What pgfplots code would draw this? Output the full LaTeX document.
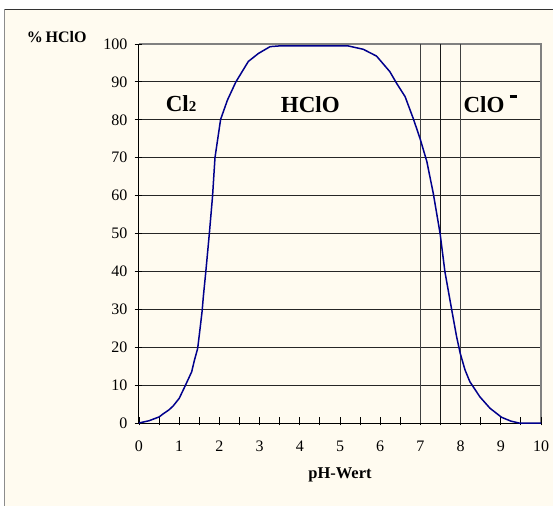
\documentclass[border=0pt]{standalone}
\usepackage{fontspec}
\setmainfont{Liberation Serif}
\usepackage{pgfplots}
\pgfplotsset{compat=1.18}
\definecolor{cream}{RGB}{255,251,240}
\definecolor{curveblue}{RGB}{0,0,140}
\begin{document}
\begin{tikzpicture}
\useasboundingbox (-139bp,-83bp) rectangle (414bp,423bp);
\fill[white] (-139bp,-83bp) rectangle (414bp,423bp);
\fill[cream] (-134bp,-83bp) rectangle (414bp,413.5bp);
\draw[black!45, line width=1bp] (-134bp,-83bp) -- (-134bp,413.5bp);
\draw[black!80, line width=1.2bp] (-134bp,413.5bp) -- (414bp,413.5bp);

\begin{axis}[
  at={(0,0)}, anchor=south west,
  scale only axis, width=402bp, height=379bp,
  xmin=0, xmax=10, ymin=0, ymax=100,
  clip=false,
  axis x line*=bottom, axis y line*=left,
  axis line style={black, line width=1bp, -},
  xtick={0,1,...,10},
  ytick={0,10,...,100},
  ymajorgrids=true,
  major grid style={draw=black!85, line width=0.9bp},
  major tick length=0pt,
  /pgf/number format/assume math mode=true,
  tick label style={font=\fontsize{16bp}{19bp}\selectfont},
  xticklabel style={anchor=base, inner sep=0pt, yshift=-28.7bp},
  yticklabel style={anchor=east, inner sep=0pt, xshift=-11.3bp},
  xlabel={pH-Wert},
  xlabel style={at={(axis description cs:0.5,0)}, anchor=base, inner sep=0pt,
    yshift=-55.3bp, font=\bfseries\fontsize{16.5bp}{19bp}\selectfont},
  ylabel={\%\,HClO},
  ylabel style={rotate=-90, at={(axis description cs:0,1)}, anchor=base west,
    inner sep=0pt, xshift=-112.3bp, yshift=1.3bp,
    font=\bfseries\fontsize{16bp}{19bp}\selectfont},
]
\draw[black!50, line width=1.2bp] (rel axis cs:0,1) -- (rel axis cs:1,1) -- (rel axis cs:1,0);
% tick marks: every 0.5 on the pH axis, every 10 on the % axis
\pgfplotsinvokeforeach{0,0.5,...,10}{
  \draw[black, line width=0.9bp] (axis cs:#1,-0.6) -- (axis cs:#1,1.6);
}
\pgfplotsinvokeforeach{0,10,...,100}{
  \draw[black, line width=0.9bp] (axis cs:-0.11,#1) -- (axis cs:0.075,#1);
}

% pH marks at 7, 7.5 and 8
\addplot[black!75, line width=1bp, mark=none] coordinates {(7,0) (7,100)};
\addplot[black!90, line width=1bp, mark=none] coordinates {(7.5,0) (7.5,100)};
\addplot[black!75, line width=1bp, mark=none] coordinates {(8,0) (8,100)};

\addplot[curveblue, line width=1.5bp, line join=round, mark=none] coordinates {
(0,0) (0.25,0.6) (0.5,1.6) (0.6,2.4) (0.75,3.5) (0.85,4.5) (1.0,6.5)
(1.14,9.6) (1.31,13.5) (1.38,16.6) (1.46,19.7) (1.52,25) (1.57,29.5)
(1.60,33.3) (1.66,39.7) (1.75,50) (1.83,59.9) (1.89,70) (2.03,80.1)
(2.2,85.2) (2.41,90) (2.72,95.4) (2.97,97.5) (3.26,99.3) (3.5,99.5)
(5.2,99.5) (5.58,98.6) (5.91,96.8) (6.24,92.7) (6.41,89.6) (6.62,86.1)
(6.82,80.4) (6.99,75.1) (7.16,69) (7.32,60.6) (7.49,50) (7.61,39.9)
(7.78,29.8) (7.9,22.8) (7.99,18.4) (8.11,14) (8.23,10.9) (8.48,6.9)
(8.73,3.9) (9.02,1.5) (9.25,0.5) (9.45,0) (10,0)
};

\node[anchor=base west, inner sep=0pt, font=\bfseries\fontsize{23bp}{26bp}\selectfont]
  at (axis cs:0.664,82.06) {Cl{\fontsize{15bp}{17bp}\selectfont 2}};
\node[anchor=base, inner sep=0pt, font=\bfseries\fontsize{23bp}{26bp}\selectfont]
  at (axis cs:4.26,81.9) {HClO};
\node[anchor=base west, inner sep=0pt, font=\bfseries\fontsize{23bp}{26bp}\selectfont]
  at (axis cs:8.07,82) {ClO\hspace{5bp}\raisebox{14.5bp}{\rule{7bp}{2.7bp}}};
\end{axis}
\end{tikzpicture}
\end{document}
